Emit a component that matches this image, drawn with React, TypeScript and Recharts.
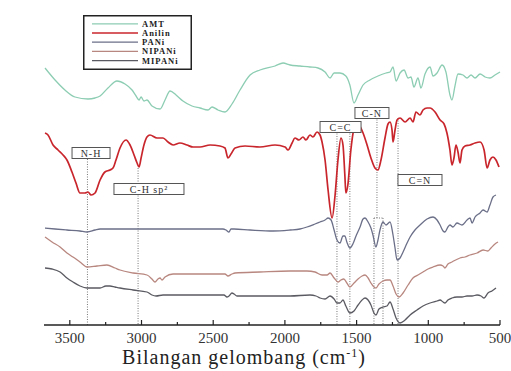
import {
  LineChart,
  Line,
  XAxis,
  YAxis,
  ReferenceLine,
  ReferenceDot,
  Legend,
} from 'recharts';

// FTIR spectra, wavenumber (cm-1) vs transmittance (stacked, arbitrary units)
const AMT: [number, number][] = [
  [3673, 257], [3603, 245], [3534, 235], [3464, 228], [3373, 226], [3324, 227],
  [3289, 229], [3234, 237], [3171, 244], [3115, 241], [3066, 235], [3038, 229],
  [3017, 225], [3003, 228], [2983, 224], [2962, 225], [2927, 219], [2871, 216],
  [2836, 225], [2801, 234], [2759, 230], [2711, 224], [2648, 219], [2592, 217],
  [2536, 215], [2508, 218], [2466, 215], [2418, 213], [2369, 221], [2313, 235],
  [2243, 250], [2174, 255], [2069, 259], [2013, 262], [1964, 260], [1895, 259],
  [1825, 258], [1769, 257], [1720, 253], [1685, 247], [1657, 252], [1616, 252],
  [1575, 249], [1547, 240], [1518, 222], [1490, 230], [1455, 240], [1407, 245],
  [1351, 249], [1295, 252], [1267, 253], [1246, 258], [1225, 244], [1197, 252],
  [1169, 255], [1141, 247], [1121, 248], [1100, 238], [1072, 247], [1051, 237],
  [1023, 251], [988, 258], [967, 249], [939, 252], [904, 260], [877, 253],
  [849, 230], [835, 225], [814, 239], [793, 251], [758, 250], [730, 247],
  [702, 250], [674, 247], [639, 251], [604, 248], [570, 247], [535, 250], [500, 253],
];

const ANILIN: [number, number][] = [
  [3673, 192], [3652, 190], [3617, 180], [3582, 175], [3547, 170], [3520, 165],
  [3485, 153], [3457, 142], [3429, 132], [3394, 132], [3373, 133], [3352, 130],
  [3324, 132], [3289, 145], [3255, 153], [3220, 155], [3199, 157], [3178, 165],
  [3150, 177], [3108, 185], [3080, 180], [3052, 170], [3031, 162], [3017, 158],
  [3003, 167], [2983, 180], [2962, 188], [2941, 190], [2892, 187], [2850, 187],
  [2815, 183], [2780, 180], [2732, 182], [2683, 180], [2641, 178], [2592, 178],
  [2522, 180], [2453, 179], [2418, 177], [2397, 167], [2376, 171], [2348, 177],
  [2278, 179], [2174, 178], [2069, 180], [1999, 178], [1978, 175], [1950, 182],
  [1930, 187], [1902, 185], [1874, 188], [1853, 185], [1825, 190], [1804, 188],
  [1776, 193], [1755, 190], [1741, 183], [1720, 165], [1699, 135], [1671, 107],
  [1650, 130], [1630, 165], [1609, 187], [1595, 180], [1582, 150], [1575, 132],
  [1561, 140], [1540, 175], [1518, 197], [1504, 202], [1483, 200], [1455, 192],
  [1427, 180], [1400, 167], [1372, 157], [1351, 155], [1330, 165], [1302, 187],
  [1281, 201], [1267, 203], [1253, 195], [1246, 183], [1232, 195], [1218, 205],
  [1197, 207], [1162, 203], [1127, 207], [1107, 203], [1086, 213], [1058, 210],
  [1037, 215], [1009, 217], [988, 217], [953, 213], [918, 205], [890, 201],
  [870, 192], [849, 175], [835, 160], [821, 167], [807, 180], [793, 173],
  [779, 162], [765, 175], [744, 179], [709, 180], [674, 182], [639, 183],
  [611, 175], [590, 157], [570, 165], [549, 168], [528, 165], [507, 158],
];

const PANI: [number, number][] = [
  [3673, 97], [3603, 96], [3520, 95], [3429, 94], [3380, 93], [3324, 95],
  [3289, 96], [3150, 96], [3010, 96], [2836, 96], [2662, 96], [2522, 96],
  [2432, 96], [2411, 95], [2390, 93], [2376, 96], [2355, 96], [2243, 95],
  [2083, 94], [1964, 95], [1895, 96], [1846, 98], [1790, 101], [1755, 103],
  [1720, 105], [1699, 107], [1678, 105], [1657, 95], [1637, 85], [1616, 82],
  [1595, 89], [1582, 89], [1568, 83], [1547, 77], [1526, 81], [1504, 89],
  [1476, 98], [1455, 106], [1441, 107], [1420, 103], [1400, 97], [1386, 90],
  [1365, 78], [1351, 85], [1337, 95], [1316, 103], [1295, 100], [1267, 103],
  [1246, 90], [1232, 77], [1218, 65], [1197, 67], [1176, 73], [1148, 82],
  [1127, 88], [1093, 95], [1058, 100], [1009, 106], [967, 108], [939, 105],
  [918, 100], [897, 94], [884, 93], [863, 98], [849, 100], [828, 98],
  [800, 102], [765, 100], [730, 105], [709, 107], [695, 102], [674, 108],
  [639, 112], [618, 115], [590, 113], [570, 120], [549, 128], [528, 130],
];

const NIPANI: [number, number][] = [
  [3673, 88], [3624, 83], [3568, 78], [3520, 72], [3478, 68], [3429, 63],
  [3380, 58], [3310, 59], [3241, 60], [3185, 57], [3150, 55], [3059, 52],
  [2962, 50], [2927, 46], [2906, 43], [2885, 46], [2871, 47], [2857, 45],
  [2836, 48], [2780, 51], [2662, 51], [2522, 51], [2418, 51], [2397, 49],
  [2369, 51], [2348, 52], [2174, 53], [1964, 54], [1846, 54], [1790, 53],
  [1741, 50], [1706, 50], [1685, 52], [1657, 47], [1630, 43], [1609, 45],
  [1589, 46], [1568, 42], [1547, 38], [1518, 42], [1490, 46], [1462, 49],
  [1441, 50], [1420, 47], [1400, 42], [1379, 38], [1365, 37], [1344, 41],
  [1316, 44], [1288, 45], [1267, 45], [1246, 39], [1225, 31], [1204, 28],
  [1176, 32], [1141, 40], [1107, 47], [1072, 50], [1037, 53], [1002, 56],
  [967, 58], [918, 60], [897, 59], [884, 57], [863, 61], [835, 63],
  [779, 67], [744, 68], [709, 70], [660, 72], [618, 75], [584, 74],
  [563, 77], [535, 81], [514, 83],
];

const MIPANI: [number, number][] = [
  [3673, 57], [3624, 56], [3568, 53], [3520, 47], [3478, 43], [3429, 39],
  [3380, 37], [3324, 37], [3289, 37], [3248, 39], [3220, 39], [3185, 38],
  [3150, 37], [3059, 35], [2962, 33], [2927, 30], [2899, 29], [2850, 30],
  [2780, 30], [2662, 30], [2522, 30], [2425, 30], [2404, 28], [2390, 29],
  [2369, 32], [2355, 31], [2334, 29], [2174, 29], [1964, 29], [1825, 30],
  [1783, 29], [1755, 27], [1720, 26], [1685, 29], [1657, 26], [1637, 22],
  [1616, 22], [1595, 25], [1575, 19], [1547, 12], [1518, 14], [1490, 20],
  [1462, 25], [1441, 27], [1420, 25], [1400, 20], [1379, 12], [1365, 10],
  [1344, 16], [1316, 18], [1288, 19], [1267, 23], [1246, 16], [1225, 7],
  [1197, 2], [1162, 5], [1127, 10], [1079, 15], [1037, 19], [988, 22],
  [939, 24], [918, 25], [897, 23], [884, 22], [863, 25], [835, 27],
  [800, 28], [765, 28], [730, 29], [695, 29], [660, 30], [632, 29],
  [611, 27], [584, 32], [556, 34], [528, 37],
];

const X_TICKS = [3500, 3250, 3000, 2750, 2500, 2250, 2000, 1750, 1500, 1250, 1000, 750, 500];

// dotted guide lines: [wavenumber, from, to]
const GUIDES: [number, number, number][] = [
  [3377, 166, 0],
  [3024, 157, 0],
  [1637, 194, 0],
  [1547, 194, 0],
  [1358, 208, 107],
  [1379, 107, 0],
  [1316, 107, 0],
  [1211, 207, 0],
];

// band labels: [text, wavenumber, value, box width]
const BANDS: [string, number, number, number][] = [
  ['N-H', 3352, 172, 38],
  ['C-H sp²', 2948, 136, 70],
  ['C=C', 1612, 198, 41],
  ['C-N', 1393, 212, 34],
  ['C=N', 1058, 145, 44],
];

const FONT = "'Times New Roman', 'Liberation Serif', serif";

const rows = (pts: [number, number][]) => pts.map(([wn, t]) => ({ wn, t }));

const SERIES = [
  { name: 'AMT', data: rows(AMT), color: '#8ccdb3', width: 1.3 },
  { name: 'Anilin', data: rows(ANILIN), color: '#c8262c', width: 1.7 },
  { name: 'PANi', data: rows(PANI), color: '#6b6f88', width: 1.3 },
  { name: 'NIPANi', data: rows(NIPANI), color: '#b8877f', width: 1.3 },
  { name: 'MIPANi', data: rows(MIPANI), color: '#5a5a62', width: 1.3 },
];

function WnTick(props: any) {
  const { x, y, payload } = props;
  const major = payload.value % 500 === 0;
  return (
    <g>
      <line x1={x} y1={y} x2={x} y2={y - (major ? 5 : 3)} stroke="#222" strokeWidth={1.2} />
      {major && (
        <text x={x} y={y + 18} textAnchor="middle" fontSize={15} fontFamily={FONT} fill="#333">
          {payload.value}
        </text>
      )}
    </g>
  );
}

function BandBox(props: any) {
  const { cx, cy, text, w } = props;
  const h = 11;
  return (
    <g>
      <rect x={cx - w / 2} y={cy - h / 2} width={w} height={h} fill="#fff" stroke="#555" strokeWidth={1} />
      <text x={cx} y={cy + 3.5} textAnchor="middle" fontSize={10} fontFamily={FONT} fill="#333" letterSpacing={1}>
        {text}
      </text>
    </g>
  );
}

// legend drawn in series order (Recharts sorts its payload by name)
function LegendBox() {
  return (
    <svg width={109} height={55} style={{ display: 'block' }}>
      <rect x={0.75} y={0.75} width={107.5} height={53.5} fill="#fff" stroke="#222" strokeWidth={1.5} />
      {SERIES.map((s, i) => {
        const cy = 8.8 + i * 9.2;
        return (
          <g key={s.name}>
            <line x1={9} y1={cy} x2={55} y2={cy} stroke={s.color} strokeWidth={1.3} />
            <text x={59} y={cy + 3} fontSize={8.5} fontWeight="bold" fontFamily={FONT} fill="#222" letterSpacing={1}>
              {s.name}
            </text>
          </g>
        );
      })}
    </svg>
  );
}

export default function App() {
  return (
    <div style={{ position: 'absolute', left: 0, top: 0, width: 511, height: 371, background: '#fff' }}>
      <LineChart width={511} height={371} margin={{ top: 12, right: 11, bottom: 0, left: 44 }}>
        <XAxis
          dataKey="wn"
          type="number"
          domain={[500, 3680]}
          reversed
          ticks={X_TICKS}
          interval={0}
          height={46}
          tickSize={0}
          tickMargin={0}
          tickLine={false}
          tick={<WnTick />}
          axisLine={{ stroke: '#222', strokeWidth: 1.5 }}
          label={() => (
            <text x={244} y={364} textAnchor="middle" fontSize={20} fontFamily={FONT} fill="#222" letterSpacing={1}>
              Bilangan gelombang (cm<tspan dy={-7} fontSize={12}>-1</tspan><tspan dy={7}>)</tspan>
            </text>
          )}
        />
        <XAxis
          xAxisId="top"
          orientation="top"
          type="number"
          domain={[500, 3680]}
          reversed
          height={0}
          tick={false}
          tickLine={false}
          axisLine={{ stroke: '#222', strokeWidth: 1.5 }}
        />
        <YAxis
          type="number"
          domain={[0, 313]}
          width={0}
          tick={false}
          tickLine={false}
          axisLine={{ stroke: '#222', strokeWidth: 1.5 }}
          label={() => (
            <text x={23} y={178} transform="rotate(-90 23 178)" textAnchor="middle" fontSize={16} fontFamily={FONT} fill="#222" letterSpacing={0.6}>
              % Transmitan
            </text>
          )}
        />
        <YAxis
          yAxisId="r"
          orientation="right"
          type="number"
          domain={[0, 313]}
          width={0}
          tick={false}
          tickLine={false}
          axisLine={{ stroke: '#222', strokeWidth: 1.5 }}
        />
        {GUIDES.map(([wn, a, b], i) => (
          <ReferenceLine
            key={'g' + i}
            segment={[{ x: wn, y: a }, { x: wn, y: b }]}
            stroke="#777"
            strokeWidth={1}
            strokeDasharray="1 1.5"
          />
        ))}
        <ReferenceLine
          segment={[{ x: 1379, y: 107 }, { x: 1316, y: 107 }]}
          stroke="#777"
          strokeWidth={1}
          strokeDasharray="1 1.5"
        />
        {SERIES.map((s) => (
          <Line
            key={s.name}
            name={s.name}
            data={s.data}
            dataKey="t"
            type="monotone"
            stroke={s.color}
            strokeWidth={s.width}
            dot={false}
            activeDot={false}
            isAnimationActive={false}
          />
        ))}
        {BANDS.map(([text, wn, v, w]) => (
          <ReferenceDot
            key={text}
            x={wn}
            y={v}
            r={0}
            shape={(p: any) => <BandBox cx={p.cx} cy={p.cy} text={text} w={w} />}
          />
        ))}
        <Legend
          layout="horizontal"
          align="center"
          verticalAlign="middle"
          content={<LegendBox />}
          wrapperStyle={{ position: 'absolute', left: 83, top: 15, width: 109, height: 55 }}
        />
      </LineChart>
    </div>
  );
}
